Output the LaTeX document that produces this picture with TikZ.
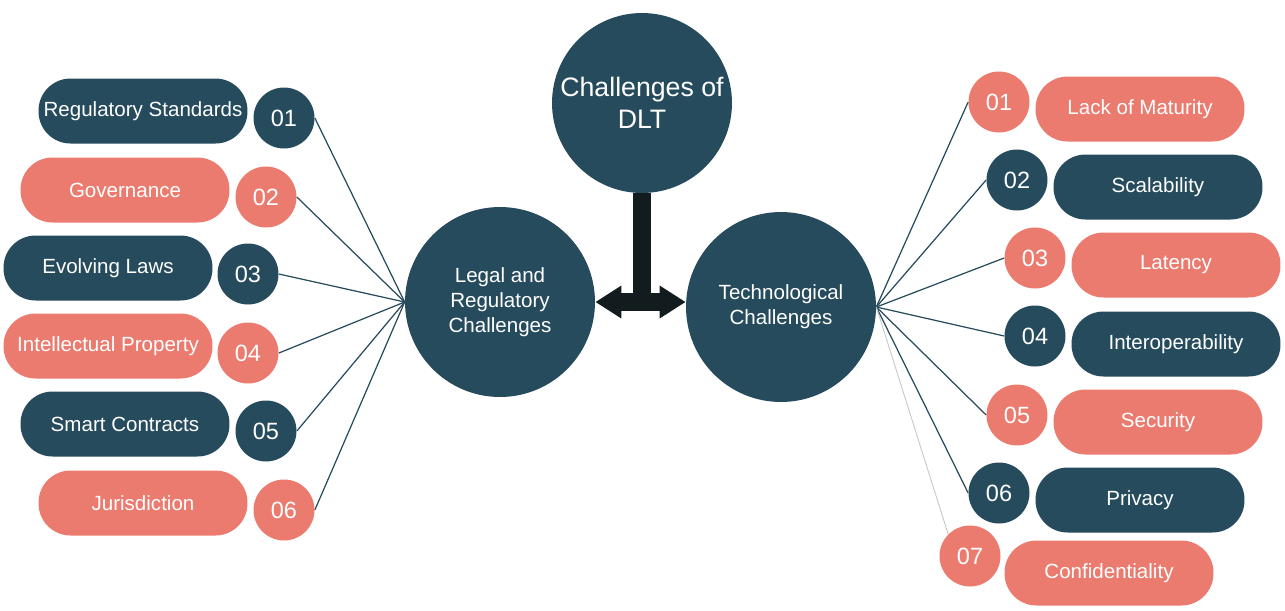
\documentclass[tikz,border=0pt]{standalone}
\usepackage{fontspec}
\setmainfont{Liberation Sans}
\usepackage{xcolor}
\usetikzlibrary{arrows.meta,calc}
\definecolor{darkteal}{HTML}{264B5D}
\definecolor{salmon}{HTML}{EC7B6F}
\definecolor{arrowdark}{HTML}{121C1E}

\begin{document}
\begin{tikzpicture}[x=0.02cm, y=-0.02cm]
        \tikzset{
            title/.style={circle, fill=darkteal, text=white, minimum size=3.6cm, inner sep=0pt, align=center, font=\fontsize{15.2}{18.1}\selectfont},
            hub/.style={circle, fill=darkteal, text=white, minimum size=3.8cm, inner sep=0pt, align=center, font=\fontsize{11.7}{14.2}\selectfont},
            numdark/.style={circle, fill=darkteal, text=white, minimum size=1.22cm, inner sep=0pt, font=\fontsize{13.4}{15}\selectfont},
            numlight/.style={numdark, fill=salmon},
            pilldark/.style={rectangle, rounded corners=0.64cm, fill=darkteal, text=white, minimum width=4.18cm, minimum height=1.3cm, inner sep=0pt, font=\fontsize{11.7}{14}\selectfont},
            pilllight/.style={pilldark, fill=salmon},
            spoke/.style={draw=darkteal, line width=0.7pt},
            bigarrow/.style={draw=arrowdark, line width=0.37cm}
        }
        
        % Main topic
        \node [title] (dlt) at (642, 103) {Challenges of\\DLT};
        
        % Two groups
        \node [hub] (legal) at (500, 302) {Legal and\\Regulatory\\Challenges};
        \node [hub] (tech) at (781, 307) {Technological\\Challenges};
        
        % Link from main topic to groups
        \draw [bigarrow] (dlt.south) -- (dlt.south |- legal.east);
        \draw [bigarrow, {Triangle[width=0.62cm,length=0.52cm]}-{Triangle[width=0.62cm,length=0.52cm]}] (legal.east) -- (legal.east -| tech.west);
        
        % Legal items
        \node [pilldark] (regstd) at (143, 111) {Regulatory Standards};
        \node [numdark] (l01) at (284, 118) {01};
        \node [pilllight] (gov) at (125, 190) {Governance};
        \node [numlight] (l02) at (266, 197) {02};
        \node [pilldark] (laws) at (108, 268) {Evolving Laws};
        \node [numdark] (l03) at (248, 274) {03};
        \node [pilllight] (ip) at (108, 346) {Intellectual Property};
        \node [numlight] (l04) at (248, 353) {04};
        \node [pilldark] (smart) at (125, 424) {Smart Contracts};
        \node [numdark] (l05) at (266, 431) {05};
        \node [pilllight] (juris) at (143, 503) {Jurisdiction};
        \node [numlight] (l06) at (284, 510) {06};
        
        % Technological items
        \node [numlight] (r01) at (999, 102) {01};
        \node [pilllight] (maturity) at (1140, 109) {Lack of Maturity};
        \node [numdark] (r02) at (1017, 180) {02};
        \node [pilldark] (scal) at (1158, 187) {Scalability};
        \node [numlight] (r03) at (1035, 258) {03};
        \node [pilllight] (lat) at (1176, 265) {Latency};
        \node [numdark] (r04) at (1035, 336) {04};
        \node [pilldark] (interop) at (1176, 344) {Interoperability};
        \node [numlight] (r05) at (1017, 415) {05};
        \node [pilllight] (sec) at (1158, 422) {Security};
        \node [numdark] (r06) at (999, 493) {06};
        \node [pilldark] (priv) at (1140, 500) {Privacy};
        \node [numlight] (r07) at (970, 556) {07};
        \node [pilllight] (conf) at (1109, 573) {Confidentiality};
        
        % Spokes on the left
        \draw [spoke] (l01.east) -- (legal.west);
        \draw [spoke] (l02.east) -- (legal.west);
        \draw [spoke] (l03.east) -- (legal.west);
        \draw [spoke] (l04.east) -- (legal.west);
        \draw [spoke] (l05.east) -- (legal.west);
        \draw [spoke] (l06.east) -- (legal.west);
        
        % Spokes on the right
        \draw [spoke] (tech.east) -- (r01.west);
        \draw [spoke] (tech.east) -- (r02.west);
        \draw [spoke] (tech.east) -- (r03.west);
        \draw [spoke] (tech.east) -- (r04.west);
        \draw [spoke] (tech.east) -- (r05.west);
        \draw [spoke] (tech.east) -- (r06.west);
        \draw [spoke, draw=gray!45, line width=0.5pt] (tech.east) -- (r07.north west);
        
        \useasboundingbox (0, 0) rectangle (1285, 610);
\end{tikzpicture}
\end{document}
